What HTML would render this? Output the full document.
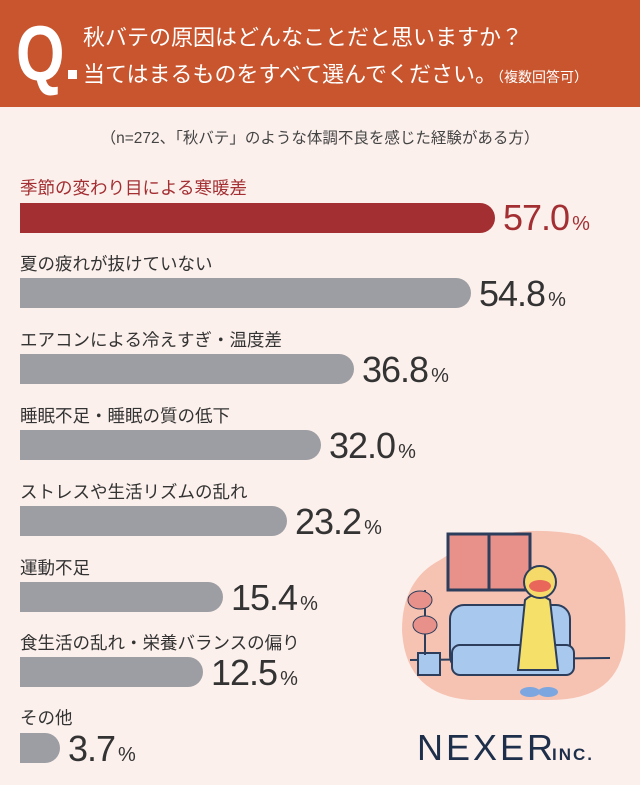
<!DOCTYPE html>
<html><head><meta charset="utf-8"><style>
body{margin:0;width:640px;height:785px;background:#FCF0EC;font-family:"Liberation Sans","Noto Sans CJK JP",sans-serif;position:relative;overflow:hidden;color:#3a3a3a}
.hd{position:absolute;left:0;top:0;width:640px;height:107px;background:#C8552E;color:#fff}
.q{position:absolute;left:16px;top:14px;font-size:78px;font-weight:bold;line-height:1;font-family:"Liberation Sans",sans-serif;transform:scaleX(.8);transform-origin:left}
.dot{position:absolute;left:68px;top:70px;width:9px;height:9px;background:#fff}
.t1,.t2{position:absolute;left:83px;font-size:22px;white-space:nowrap}
.t1{top:20px}.t2{top:57px}
.sub{position:absolute;top:126px;left:0;width:640px;text-align:center;font-size:15.5px;color:#444}
.lb{position:absolute;left:20px;font-size:17.5px;white-space:nowrap;color:#333}
.bar{position:absolute;left:20px;height:30px;background:#9D9EA3;border-radius:0 15px 15px 0}
.v{position:absolute;font-size:36px;color:#333;line-height:1;white-space:nowrap;letter-spacing:-1px}
.v small{font-size:20px;margin-left:3px;letter-spacing:0}
</style></head><body>
<div class="hd"><div class="q">Q</div><div class="dot"></div>
<div class="t1">秋バテの原因はどんなことだと思いますか？</div>
<div class="t2">当てはまるものをすべて選んでください。<span style="font-size:14px">（複数回答可）</span></div></div>
<div class="sub">（n=272、「秋バテ」のような体調不良を感じた経験がある方）</div>

<div class="lb" style="top:175px;color:#A32F33">季節の変わり目による寒暖差</div>
<div class="bar" style="top:203px;width:475px;background:#A32F33"></div>
<div class="v" style="top:200px;left:503px;color:#A32F33">57.0<small>%</small></div>

<div class="lb" style="top:251px">夏の疲れが抜けていない</div>
<div class="bar" style="top:278px;width:451px"></div>
<div class="v" style="top:276px;left:479px">54.8<small>%</small></div>

<div class="lb" style="top:327px">エアコンによる冷えすぎ・温度差</div>
<div class="bar" style="top:354px;width:334px"></div>
<div class="v" style="top:352px;left:362px">36.8<small>%</small></div>

<div class="lb" style="top:403px">睡眠不足・睡眠の質の低下</div>
<div class="bar" style="top:430px;width:301px"></div>
<div class="v" style="top:428px;left:329px">32.0<small>%</small></div>

<div class="lb" style="top:479px">ストレスや生活リズムの乱れ</div>
<div class="bar" style="top:506px;width:267px"></div>
<div class="v" style="top:504px;left:295px">23.2<small>%</small></div>

<div class="lb" style="top:555px">運動不足</div>
<div class="bar" style="top:582px;width:203px"></div>
<div class="v" style="top:580px;left:231px">15.4<small>%</small></div>

<div class="lb" style="top:630px">食生活の乱れ・栄養バランスの偏り</div>
<div class="bar" style="top:657px;width:183px"></div>
<div class="v" style="top:655px;left:211px">12.5<small>%</small></div>

<div class="lb" style="top:705px">その他</div>
<div class="bar" style="top:733px;width:40px"></div>
<div class="v" style="top:731px;left:68px">3.7<small>%</small></div>

<svg style="position:absolute;left:380px;top:520px" width="260" height="265">
<path d="M60 40 Q120 0 200 15 Q250 35 245 120 Q240 180 170 180 L90 180 Q25 175 22 110 Q22 60 60 40Z" fill="#F6C3B3"/>
<rect x="68" y="14" width="82" height="56" fill="#E8918A" stroke="#2c3e5c" stroke-width="3"/>
<line x1="109" y1="14" x2="109" y2="70" stroke="#2c3e5c" stroke-width="3"/>
<line x1="30" y1="140" x2="230" y2="138" stroke="#2c3e5c" stroke-width="2"/>
<rect x="70" y="85" width="120" height="65" rx="14" fill="#A8C8EE" stroke="#2c3e5c" stroke-width="2"/>
<rect x="72" y="125" width="122" height="30" rx="8" fill="#A8C8EE" stroke="#2c3e5c" stroke-width="2"/>
<rect x="38" y="133" width="22" height="22" fill="#A8C8EE" stroke="#2c3e5c" stroke-width="2"/>
<path d="M45 135 L45 70" stroke="#2c3e5c" stroke-width="2"/>
<ellipse cx="40" cy="80" rx="12" ry="9" fill="#E8918A" stroke="#2c3e5c"/>
<ellipse cx="45" cy="105" rx="12" ry="9" fill="#E8918A" stroke="#2c3e5c"/>
<path d="M145 80 Q155 70 170 80 L178 150 L138 150Z" fill="#F5E06A" stroke="#2c3e5c" stroke-width="2"/>
<circle cx="160" cy="62" r="16" fill="#F5DA6A" stroke="#2c3e5c" stroke-width="2"/>
<ellipse cx="160" cy="66" rx="11" ry="6" fill="#E8675A"/>
<ellipse cx="150" cy="172" rx="10" ry="5" fill="#7BA6E0"/><ellipse cx="168" cy="172" rx="10" ry="5" fill="#7BA6E0"/>
<text x="37" y="240" font-family="Liberation Sans,sans-serif" font-size="36" fill="#1e2f4c" letter-spacing="3">NEXER</text>
<text x="172" y="240" font-family="Liberation Sans,sans-serif" font-size="17" font-weight="bold" fill="#1e2f4c" letter-spacing="2">INC.</text>
</svg>
</body></html>
